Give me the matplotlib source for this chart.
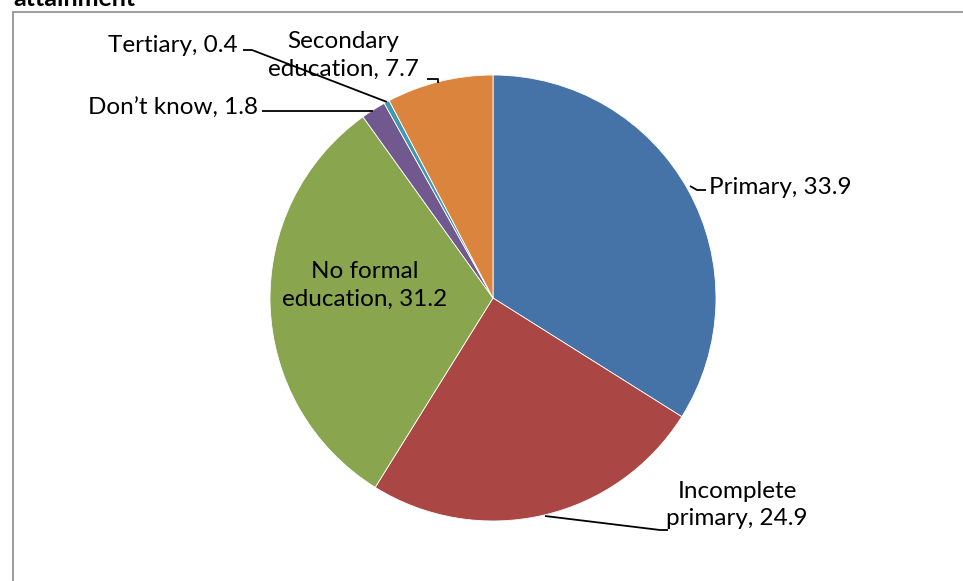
import matplotlib
matplotlib.use('Agg')
import matplotlib.pyplot as plt
from matplotlib.patches import Rectangle

# data (percent, clockwise from 12 o'clock)
labels = ['Primary', 'Incomplete\nprimary', 'No formal\neducation', "Don\u2019t know", 'Tertiary', 'Secondary\neducation']
values = [33.9, 24.9, 31.2, 1.8, 0.4, 7.7]
colors = ['#4572A7', '#AA4643', '#89A54E', '#71588F', '#4198AF', '#DB843D']

W, H = 963, 581
plt.rcParams['font.family'] = ['Lato', 'DejaVu Sans']

fig = plt.figure(figsize=(W / 100, H / 100), dpi=100)
ax = fig.add_axes([0, 0, 1, 1])

# pie in pixel coords (y flipped)
cx, cy, r = 493, H - 298, 223
ax.pie(values, colors=colors, startangle=90, counterclock=False,
       center=(cx, cy), radius=r, frame=True,
       wedgeprops=dict(linewidth=0.6, edgecolor='white'))
ax.set_xlim(0, W)
ax.set_ylim(0, H)
ax.set_aspect('equal')
ax.axis('off')

fs = 17.5
def txt(x, y, s, ha='left'):
    ax.text(x, H - y, s, fontsize=fs, ha=ha, va='center', linespacing=1.4)

def line(xs, ys):
    ax.plot(xs, [H - y for y in ys], color='black', lw=1.3, solid_capstyle='butt')

txt(709, 188, labels[0] + ', %.1f' % values[0])
line([690, 697, 706], [186, 190, 190])

txt(737, 505, labels[1] + ', %.1f' % values[1], ha='center')
line([545, 660, 668], [516, 530, 530])

txt(365, 285, labels[2] + ', %.1f' % values[2], ha='center')

txt(258, 108, labels[3] + ', %.1f' % values[3], ha='right')
line([262, 373], [111, 111])

txt(238, 45, labels[4] + ', %.1f' % values[4], ha='right')
line([243, 252, 387], [50, 50, 102])

txt(343, 55, labels[5] + ', %.1f' % values[5], ha='center')
line([427, 438, 438], [79, 79, 83])

# chart frame and cut-off title
ax.add_patch(Rectangle((12.5, -20), W, H - 11.5 + 20, fill=False,
                       edgecolor='#8c8c8c', lw=1.2))
ax.text(13, H - 6, 'attainment', fontsize=18, fontweight='bold', ha='left', va='baseline')

fig.savefig('out.png', dpi=100)
